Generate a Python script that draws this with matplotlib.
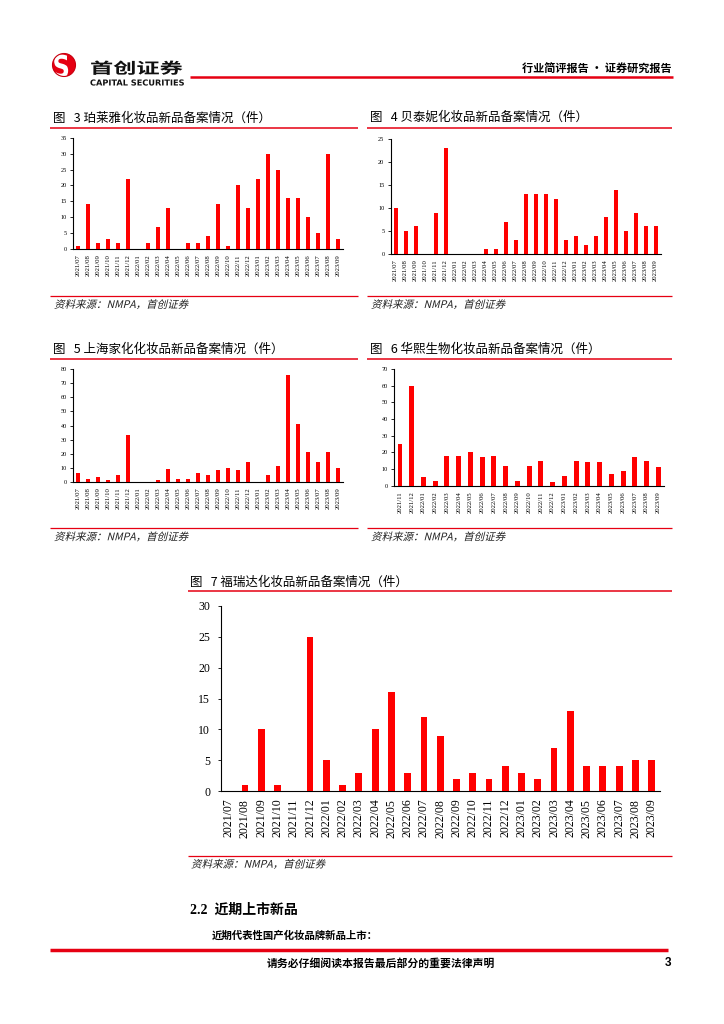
import numpy as np
import matplotlib
matplotlib.use("Agg")
import matplotlib.pyplot as plt
from matplotlib.textpath import TextPath
from matplotlib.patches import PathPatch, Circle
from matplotlib.font_manager import FontProperties
from matplotlib.transforms import Affine2D

plt.rcParams['font.family'] = ['Noto Sans CJK SC', 'DejaVu Sans']

# ---- data ----
months_27 = ["2021/07", "2021/08", "2021/09", "2021/10", "2021/11", "2021/12",
             "2022/01", "2022/02", "2022/03", "2022/04", "2022/05", "2022/06",
             "2022/07", "2022/08", "2022/09", "2022/10", "2022/11", "2022/12",
             "2023/01", "2023/02", "2023/03", "2023/04", "2023/05", "2023/06",
             "2023/07", "2023/08", "2023/09"]
months_23 = months_27[4:]

proya = [1, 14, 2, 3, 2, 22, 0, 2, 7, 13, 0, 2, 2, 4, 14, 1, 20, 13,
         22, 30, 25, 16, 16, 10, 5, 30, 3]
botanee = [10, 5, 6, 0, 9, 23, 0, 0, 0, 1, 1, 7, 3, 13, 13, 13, 12, 3,
           4, 2, 4, 8, 14, 5, 9, 6, 6]
jahwa = [6, 2, 3, 1, 5, 33, 0, 0, 1, 9, 2, 2, 6, 5, 8, 10, 8, 14,
         0, 5, 11, 76, 41, 21, 14, 21, 10]
bloomage = [25, 60, 5, 3, 18, 18, 20, 17, 18, 12, 3, 12, 15, 2,
            6, 15, 14, 14, 7, 9, 17, 15, 11]
freda = [0, 1, 10, 1, 0, 25, 5, 1, 3, 10, 16, 3, 12, 9, 2, 3, 2, 4,
         3, 2, 7, 13, 4, 4, 4, 5, 5]

W, H = 724, 1024
RED = '#E60012'
BAR = '#FF0000'
SRC = "资料来源：NMPA，首创证券"

fig = plt.figure(figsize=(W / 100, H / 100), dpi=100)
bg = fig.add_axes([0, 0, 1, 1])
bg.set_xlim(0, W)
bg.set_ylim(H, 0)
bg.axis('off')


def hline(x0, x1, y, lw):
    bg.plot([x0, x1], [y, y], color=RED, lw=lw, solid_capstyle='butt')


def path_text(x, y, s, size, sx=1.0, sy=1.0, skew=0.0, color='black',
              weight='normal', family='Noto Sans CJK SC'):
    # text drawn as a path so it can be slanted / stretched (y = baseline, px)
    fp = FontProperties(family=family, weight=weight)
    tp = TextPath((0, 0), s, size=size, prop=fp)
    tr = Affine2D().skew_deg(skew, 0).scale(sx, -sy).translate(x, y)
    p = PathPatch(tr.transform_path(tp), fc=color, ec='none')
    bg.add_patch(p)
    return p


def chart(rect, labels, values, ymax, ystep, title, tpos, tline, sline,
          ysize, xsize, ypad, xpad, tlen):
    l, r, t, b = rect
    ax = fig.add_axes([l / W, 1 - b / H, (r - l) / W, (b - t) / H])
    x = np.arange(len(values))
    ax.bar(x, values, width=0.42, color=BAR, zorder=3)
    ax.set_xlim(-0.5, len(values) - 0.5)
    ax.set_ylim(0, ymax)
    ax.set_yticks(np.arange(0, ymax + 1, ystep))
    ax.set_xticks(x)
    ax.set_xticklabels(labels, rotation=90, family='Liberation Serif',
                       fontsize=xsize)
    for lb in ax.get_yticklabels():
        lb.set_family('Liberation Serif')
        lb.set_fontsize(ysize)
    ax.tick_params(axis='x', length=0, pad=xpad)
    ax.tick_params(axis='y', length=tlen, width=0.6, pad=ypad)
    for s in ['top', 'right']:
        ax.spines[s].set_visible(False)
    for s in ['left', 'bottom']:
        ax.spines[s].set_linewidth(0.8)
    ax.patch.set_alpha(0)
    # title, rules and source
    bg.text(tpos[0], tpos[1], title, fontsize=9, va='center', ha='left')
    hline(tline[0], tline[1], tline[2], 1.1)
    hline(sline[0], sline[1], sline[2], 0.9)
    path_text(tpos[0] + 1, sline[2] + 12, SRC, 10.5, skew=14,
              color='#222222')
    return ax


chart((73.3, 342.7, 137.7, 249), months_27, proya, 35, 5,
      "图   3 珀莱雅化妆品新品备案情况（件）", (53, 118),
      (50, 358, 128), (50, 358, 296), 4.5, 4.8, 2.5, 4, 2)
chart((390.7, 660.7, 139.3, 254), months_27, botanee, 25, 5,
      "图   4 贝泰妮化妆品新品备案情况（件）", (370, 117),
      (367, 672, 127.7), (367, 672, 296), 4.5, 4.8, 2.5, 4, 2)
chart((73.3, 342.7, 369.3, 481.7), months_27, jahwa, 80, 10,
      "图   5 上海家化化妆品新品备案情况（件）", (53, 349),
      (50, 358, 359), (50, 358, 528.3), 4.5, 4.8, 2.5, 4, 2)
chart((394.1, 664.3, 369, 485.7), months_23, bloomage, 70, 10,
      "图   6 华熙生物化妆品新品备案情况（件）", (370, 349),
      (367, 672, 359), (367, 672, 528.3), 4.5, 4.8, 2.5, 4, 2)
chart((220.6, 659.8, 606, 791), months_27, freda, 30, 5,
      "图   7 福瑞达化妆品新品备案情况（件）", (190, 582.7),
      (188, 672, 591), (188, 672, 855.7), 8.5, 8.5, 5, 5.5, 2.5)

# ---- header ----
logo = Circle((64, 65), 11.5, fc='#E60012', ec='none')
bg.add_patch(logo)
sp = path_text(52.5, 77.5, "S", 31, sx=0.78, weight='bold', color='white',
               family='DejaVu Sans')
sp.set_clip_path(logo)
inner = Circle((64, 65), 11.5, fc='none', ec='#C8000F', lw=0.8)
bg.add_patch(inner)
path_text(90, 73.5, "首创证券", 16, sx=1.45, sy=0.95, weight='bold',
          color='#111111')
path_text(90, 85.5, "CAPITAL SECURITIES", 8.2, sx=1.0, weight='bold',
          color='#111111', family='DejaVu Sans')
hline(190, 673, 77, 1.8)
bg.text(672, 69, "行业简评报告 · 证券研究报告", fontsize=8, fontweight='bold',
        ha='right', va='center')

# ---- body text below charts ----
bg.text(190, 910, "2.2  近期上市新品", fontsize=10, fontweight='bold',
        ha='left', va='center', family=['Liberation Serif', 'Noto Sans CJK SC'])
bg.text(212, 936, "近期代表性国产化妆品牌新品上市：", fontsize=7.5,
        fontweight='bold', ha='left', va='center')

# ---- footer ----
hline(50, 668, 950, 2.5)
bg.text(381, 963, "请务必仔细阅读本报告最后部分的重要法律声明", fontsize=7.8,
        fontweight='bold', ha='center', va='center')
bg.text(671, 963, "3", fontsize=8.5, fontweight='bold', ha='right',
        va='center', family='Liberation Sans')

fig.savefig("out.png", dpi=100)
